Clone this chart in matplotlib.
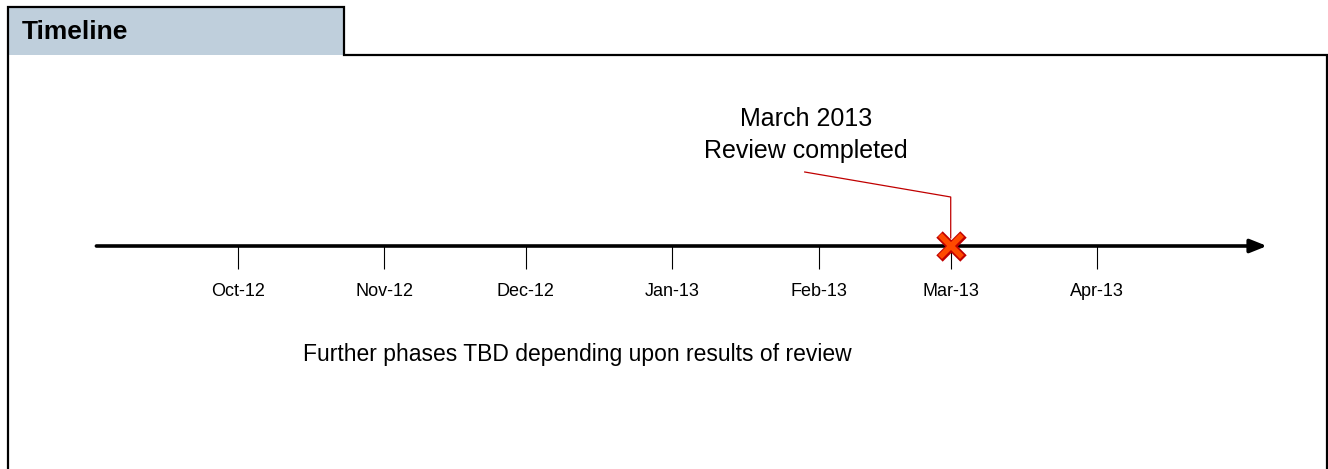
import datetime as dt
import matplotlib
matplotlib.use('Agg')
import matplotlib.pyplot as plt
import matplotlib.dates as mdates
from matplotlib.patches import Rectangle

plt.rcParams['font.family'] = ['Liberation Sans', 'DejaVu Sans']

# data
tick_dates = [dt.date(2012, 10, 1), dt.date(2012, 11, 1), dt.date(2012, 12, 1),
              dt.date(2013, 1, 1), dt.date(2013, 2, 1), dt.date(2013, 3, 1),
              dt.date(2013, 4, 1)]
tick_labels = ['Oct-12', 'Nov-12', 'Dec-12', 'Jan-13', 'Feb-13', 'Mar-13', 'Apr-13']
axis_start = dt.date(2012, 9, 1)
axis_end = dt.date(2013, 5, 7)
milestone_date = dt.date(2013, 3, 1)
milestone_text = 'March 2013\nReview completed'
note_text = 'Further phases TBD depending upon results of review'
title = 'Timeline'

W, H = 1328, 469
fig = plt.figure(figsize=(W / 100, H / 100), dpi=100)

# frame layer in pixel coords
frame = fig.add_axes([0, 0, 1, 1])
frame.set_xlim(0, W)
frame.set_ylim(H, 0)
frame.axis('off')
frame.add_patch(Rectangle((8, 7), 336, 48, facecolor='#bfcfdc', edgecolor='none'))
frame.plot([8, 8, 344, 344, 1327, 1327], [H, 7, 7, 55, 55, H], color='black',
           lw=1.6, solid_joinstyle='miter')
frame.text(22, 32, title, fontsize=19, fontweight='bold', va='center', ha='left')

# timeline layer: date x, pixel y
ax = fig.add_axes([0, 0, 1, 1])
ax.patch.set_alpha(0)
ax.axis('off')
px_per_day = 4.72
x0 = mdates.date2num(tick_dates[0])
ax.set_xlim(x0 - 238 / px_per_day, x0 + (W - 238) / px_per_day)
ax.set_ylim(H, 0)

y_axis = 246
ax.annotate('', xy=(mdates.date2num(axis_end), y_axis),
            xytext=(mdates.date2num(axis_start), y_axis),
            arrowprops=dict(arrowstyle='-|>,head_length=1.0,head_width=0.4',
                            color='black', lw=2.6, shrinkA=0, shrinkB=0))
tx = mdates.date2num(tick_dates)
ax.vlines(tx, y_axis, 269, color='black', lw=0.8)
for x, lab in zip(tx, tick_labels):
    ax.text(x, 291, lab, fontsize=13, ha='center', va='center')

mx = mdates.date2num(milestone_date)
# callout leader
ax.plot([mx, mx, mx - 146 / px_per_day], [238, 197, 172], color='#c00000', lw=0.9)
ax.plot(mx, y_axis, marker='x', ms=17, mew=6.5, color='#c00000', zorder=5)
ax.plot(mx, y_axis, marker='x', ms=16, mew=4, color='#ff4a00', zorder=6)
ax.text(mx - 145 / px_per_day, 135, milestone_text, fontsize=18, ha='center',
        va='center', linespacing=1.4)

ax.text(mx - 648 / px_per_day, 355, note_text, fontsize=16.5, ha='left', va='center')

fig.savefig('out.png', dpi=100)
